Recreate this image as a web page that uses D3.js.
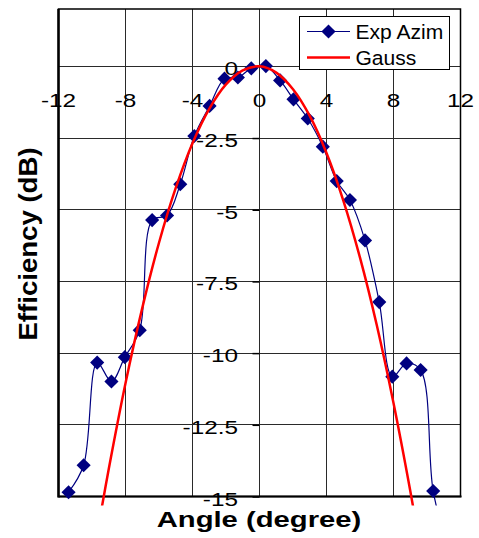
<!DOCTYPE html>
<html>
<head>
<meta charset="utf-8">
<script src="https://cdn.jsdelivr.net/npm/d3@7"></script>
<style>
  html, body { margin: 0; padding: 0; background: #fff; }
  svg { display: block; font-family: "Liberation Sans", Arial, sans-serif; }
</style>
</head>
<body>
<svg id="chart" width="479" height="538"></svg>
<script>
// Measured azimuth efficiency (dB) against angle (degrees)
const expAngle = [-11.4, -10.5, -9.69, -8.84, -8.04, -7.15, -6.41, -5.52, -4.73, -3.89,
                  -2.98, -2.09, -1.29, -0.49, 0.38, 1.23, 2.03, 2.88, 3.78, 4.61,
                  5.4, 6.3, 7.15, 7.93, 8.78, 9.62, 10.37, 11.2];
const expEff   = [-14.85, -13.91, -10.33, -10.99, -10.14, -9.2, -5.36, -5.2, -4.11, -2.43,
                  -1.38, -0.43, -0.39, -0.07, 0.01, -0.49, -1.15, -1.82, -2.8, -4.0,
                  -4.66, -6.07, -8.22, -10.82, -10.36, -10.59, -14.81, -16.7];

// Gaussian fit of the beam (dB)
const gaussAngle = [-9.5, -9, -8, -7, -6, -5, -4, -3, -2, -1, 0,
                    1, 2, 3, 4, 5, 6, 7, 8, 9, 9.5];
const gaussEff   = [-15.66, -14.04, -11.05, -8.43, -6.15, -4.24, -2.68, -1.48, -0.63, -0.14, 0.0,
                    -0.22, -0.80, -1.73, -3.02, -4.67, -6.67, -9.02, -11.74, -14.80, -16.47];

const xTicks = [-12, -8, -4, 0, 4, 8, 12];
const yTicks = [-15, -12.5, -10, -7.5, -5, -2.5, 0];
const yTickLabels = ["-15", "-12.5", "-10", "-7.5", "-5", "-2.5", "0"];
const seriesNames = ["Exp Azim", "Gauss"];

const svg = d3.select("#chart");
const pL = 58.5, pR = 460.5, pT = 9, pB = 496.5;

const x = d3.scaleLinear().domain([-12, 12]).range([pL, pR]);
const y = d3.scaleLinear().domain([-15, 2]).range([pB, pT]);

const NAVY = "#000080", RED = "#ff0000";

// plot background
svg.append("rect").attr("x", pL).attr("y", pT)
  .attr("width", pR - pL).attr("height", pB - pT).attr("fill", "#fff");

// gridlines
const grid = svg.append("g").attr("stroke", "#2a2a2a").attr("stroke-width", 1).attr("shape-rendering", "crispEdges");
grid.selectAll("line.v").data(xTicks).join("line").attr("class", "v")
  .attr("x1", d => x(d)).attr("x2", d => x(d)).attr("y1", pT).attr("y2", pB);
grid.selectAll("line.h").data(yTicks).join("line").attr("class", "h")
  .attr("x1", pL).attr("x2", pR).attr("y1", d => y(d)).attr("y2", d => y(d));

// y axis through zero with outward ticks
const yAxis = d3.axisLeft(y).tickValues(yTicks).tickSize(7).tickFormat("");
svg.append("g").attr("transform", `translate(${x(0)},0)`).call(yAxis)
  .call(g => g.select(".domain").remove())
  .call(g => g.selectAll("line").attr("stroke", "#000").attr("stroke-width", 1.5));

// plot frame
svg.append("rect").attr("x", pL).attr("y", pT)
  .attr("width", pR - pL).attr("height", pB - pT)
  .attr("fill", "none").attr("stroke", "#000").attr("stroke-width", 1.5);
svg.append("line").attr("x1", pL).attr("x2", pL).attr("y1", pT).attr("y2", pB + 1)
  .attr("stroke", "#000").attr("stroke-width", 2.5);
svg.append("line").attr("x1", pL).attr("x2", pR + 1).attr("y1", pB).attr("y2", pB)
  .attr("stroke", "#000").attr("stroke-width", 2);

// tick labels (x labels sit under the zero line)
const sx = 1.28;
const xl = svg.append("g").attr("font-size", 19).attr("fill", "#000");
xl.selectAll("text").data(xTicks).join("text")
  .attr("transform", d => `translate(${x(d)},107) scale(${sx},1)`)
  .attr("text-anchor", "middle").text(d => d);
const yl = svg.append("g").attr("font-size", 19).attr("fill", "#000");
yl.selectAll("text").data(yTicks).join("text")
  .attr("transform", d => `translate(238,${y(d) + 9}) scale(${sx},1)`)
  .attr("text-anchor", "end").text((d, i) => yTickLabels[i]);

// axis titles
svg.append("text").attr("font-weight", "bold").attr("font-size", 22.5)
  .attr("text-anchor", "middle")
  .attr("transform", `translate(259,527) scale(1.3,1)`)
  .text("Angle (degree)");
svg.append("text").attr("font-weight", "bold").attr("font-size", 23)
  .attr("text-anchor", "middle")
  .attr("transform", `translate(37,244) rotate(-90) scale(1.2,1.15)`)
  .text("Efficiency (dB)");

// series, clipped to the plot area (lines run slightly past the lower edge)
svg.append("clipPath").attr("id", "plotClip").append("rect")
  .attr("x", pL).attr("y", pT).attr("width", pR - pL).attr("height", pB - pT + 9);
const plot = svg.append("g").attr("clip-path", "url(#plotClip)");

const expData = expAngle.map((a, i) => [a, expEff[i]]);
const gaussData = gaussAngle.map((a, i) => [a, gaussEff[i]]);

const line = d3.line().x(d => x(d[0])).y(d => y(d[1])).curve(d3.curveCatmullRom.alpha(0.5));

plot.append("path").datum(expData).attr("d", line)
  .attr("fill", "none").attr("stroke", NAVY).attr("stroke-width", 1.2);

const sq = d3.symbol().type(d3.symbolSquare).size(100);
plot.selectAll("path.m").data(expData.filter(d => d[1] >= -15.2)).join("path").attr("class", "m")
  .attr("d", sq)
  .attr("transform", d => `translate(${x(d[0])},${y(d[1])}) rotate(45)`)
  .attr("fill", NAVY);

plot.append("path").datum(gaussData).attr("d", line)
  .attr("fill", "none").attr("stroke", RED).attr("stroke-width", 2.5);

// legend
const lg = svg.append("g");
lg.append("rect").attr("x", 299.5).attr("y", 16.5).attr("width", 150).attr("height", 53)
  .attr("fill", "#fff").attr("stroke", "#000").attr("stroke-width", 1);
const rowsY = [31.5, 57.5];
lg.append("line").attr("x1", 307).attr("x2", 350).attr("y1", rowsY[0]).attr("y2", rowsY[0])
  .attr("stroke", NAVY).attr("stroke-width", 1.2);
lg.append("path").attr("d", sq)
  .attr("transform", `translate(328.5,${rowsY[0]}) rotate(45)`).attr("fill", NAVY);
lg.append("line").attr("x1", 307).attr("x2", 350).attr("y1", rowsY[1]).attr("y2", rowsY[1])
  .attr("stroke", RED).attr("stroke-width", 2.5);
lg.selectAll("text").data(seriesNames).join("text")
  .attr("transform", (d, i) => `translate(355.5,${rowsY[i] + 7}) scale(1.08,1)`)
  .attr("font-size", 19.5).text(d => d);
</script>
</body>
</html>
